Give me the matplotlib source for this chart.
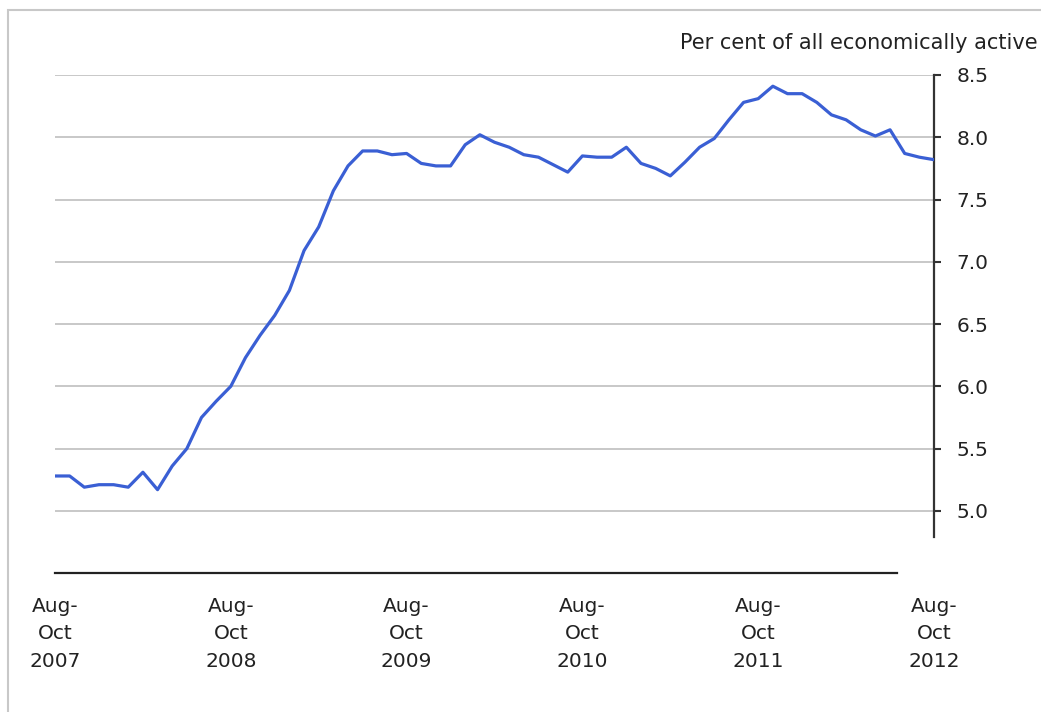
import matplotlib
matplotlib.use("Agg")
import matplotlib.pyplot as plt
from matplotlib.patches import Rectangle

plt.rcParams['font.family'] = ['DejaVu Sans']

# Unemployment rate, rolling 3-month periods, Aug-Oct 2007 .. Aug-Oct 2012
values = [5.28, 5.28, 5.19, 5.21, 5.21, 5.19, 5.31, 5.17, 5.36, 5.50,
          5.75, 5.88, 6.00, 6.23, 6.41, 6.57, 6.77, 7.09, 7.28, 7.57,
          7.77, 7.89, 7.89, 7.86, 7.87, 7.79, 7.77, 7.77, 7.94, 8.02,
          7.96, 7.92, 7.86, 7.84, 7.78, 7.72, 7.85, 7.84, 7.84, 7.92,
          7.79, 7.75, 7.69, 7.80, 7.92, 7.99, 8.14, 8.28, 8.31, 8.41,
          8.35, 8.35, 8.28, 8.18, 8.14, 8.06, 8.01, 8.06, 7.87, 7.84,
          7.82]
x_tick_pos = [0, 12, 24, 36, 48, 60]
x_tick_labels = ["Aug-\nOct\n2007", "Aug-\nOct\n2008", "Aug-\nOct\n2009",
                 "Aug-\nOct\n2010", "Aug-\nOct\n2011", "Aug-\nOct\n2012"]
y_ticks = [5.0, 5.5, 6.0, 6.5, 7.0, 7.5, 8.0, 8.5]
y_tick_labels = ["5.0", "5.5", "6.0", "6.5", "7.0", "7.5", "8.0", "8.5"]
unit_label = "Per cent of all economically active"

W, H = 1041, 712
fig = plt.figure(figsize=(W / 100, H / 100), dpi=100)

# light frame
fig.patches.append(Rectangle((8 / W, -0.1), 1.2, 1 - 10 / H + 0.1,
                             transform=fig.transFigure, fill=False,
                             edgecolor='#c8c8c8', linewidth=1.5))

left, right = 55, 934
top, bottom = 75, 537
ax = fig.add_axes([left / W, 1 - bottom / H, (right - left) / W, (bottom - top) / H])
ax.plot(range(len(values)), values, color='#3a5fd4', linewidth=2.3,
        solid_joinstyle='round', zorder=3)
ax.set_xlim(0, len(values) - 1)
ax.set_ylim(4.79, 8.5)
ax.set_yticks(y_ticks)
ax.set_yticklabels(y_tick_labels)
ax.yaxis.tick_right()
ax.tick_params(axis='y', direction='out', length=5, width=1.5, color='#333333',
               pad=11, labelsize=14.5, labelcolor='#222222')
ax.set_xticks([])
for s in ['top', 'left', 'bottom']:
    ax.spines[s].set_visible(False)
ax.spines['right'].set_color('#333333')
ax.spines['right'].set_linewidth(1.6)
ax.grid(axis='y', color='#c8c8c8', linewidth=1.4)
ax.set_axisbelow(True)

# detached category axis
xa_y = 573
ax2 = fig.add_axes([left / W, 1 - xa_y / H, (right - left) / W, 0.0001])
ax2.set_xlim(0, len(values) - 1)
ax2.set_yticks([])
for s in ['top', 'left', 'right']:
    ax2.spines[s].set_visible(False)
ax2.spines['bottom'].set_bounds(0, 57.5)
ax2.spines['bottom'].set_color('#222222')
ax2.spines['bottom'].set_linewidth(1.6)
ax2.set_xticks(x_tick_pos)
ax2.set_xticklabels(x_tick_labels, linespacing=1.58)
ax2.tick_params(axis='x', length=0, pad=17, labelsize=14.5, labelcolor='#222222')
ax2.patch.set_visible(False)

fig.text(1038 / W, 1 - 43 / H, unit_label, ha='right', va='center',
         fontsize=15, color='#222222')

fig.savefig('out.png', dpi=100)
